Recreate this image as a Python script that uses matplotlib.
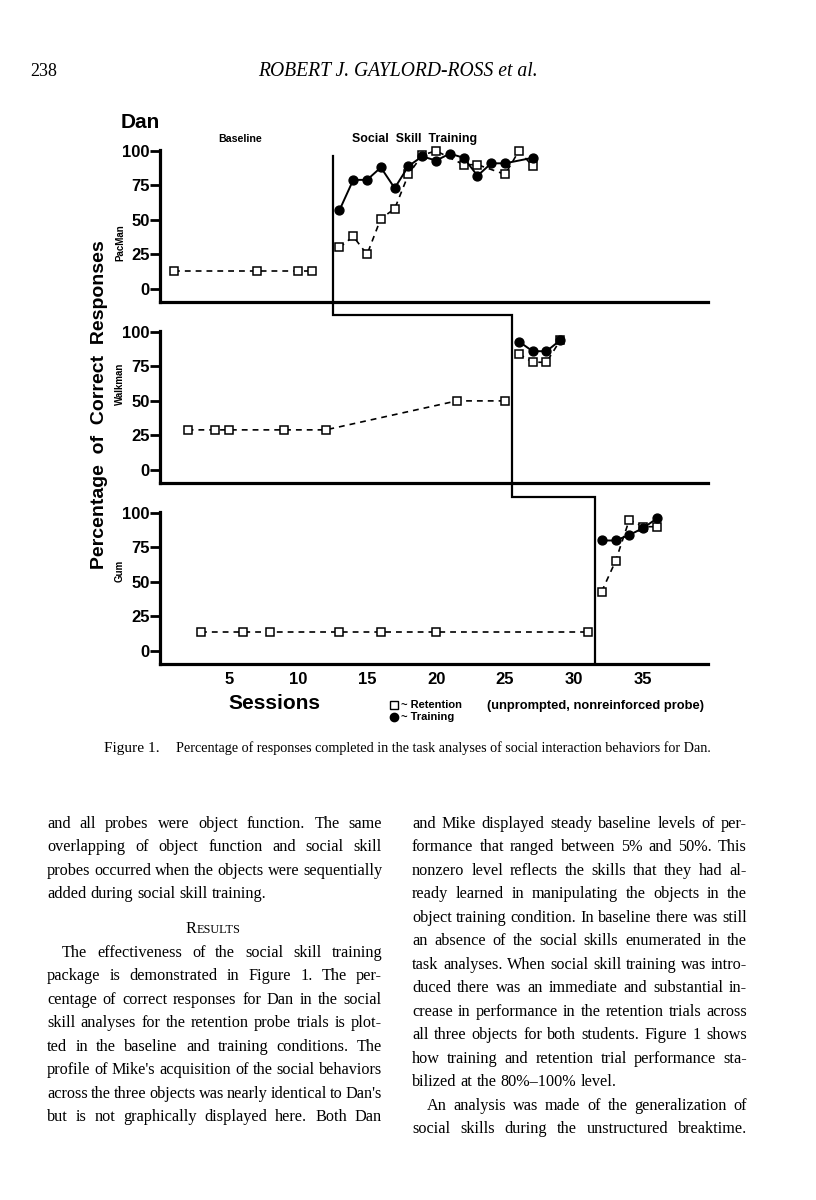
import matplotlib
matplotlib.use("Agg")
import matplotlib.pyplot as plt
from matplotlib.lines import Line2D
from matplotlib.transforms import IdentityTransform

# ---- data (sessions, percent correct) ----
pac_base_x = [1, 7, 10, 11]
pac_base_ret = [13, 13, 13, 13]
pac_ret_x = [13, 14, 15, 16, 17, 18, 19, 20, 22, 23, 25, 26, 27]
pac_ret = [30, 38, 25, 51, 58, 83, 97, 100, 90, 90, 83, 100, 89]
pac_tr_x = [13, 14, 15, 16, 17, 18, 19, 20, 21, 22, 23, 24, 25, 27]
pac_tr = [57, 79, 79, 88, 73, 89, 96, 93, 98, 95, 82, 91, 91, 95]

walk_base_x = [2, 4, 5, 9, 12, 21.5, 25]
walk_base_ret = [29, 29, 29, 29, 29, 50, 50]
walk_ret_x = [26, 27, 28, 29]
walk_ret = [84, 78, 78, 94]
walk_tr_x = [26, 27, 28, 29]
walk_tr = [93, 86, 86, 94]

gum_base_x = [3, 6, 8, 13, 16, 20, 31]
gum_base_ret = [13.5, 13.5, 13.5, 13.5, 13.5, 13.5, 13.5]
gum_ret_x = [32, 33, 34, 35, 36]
gum_ret = [43, 65, 95, 90, 90]
gum_tr_x = [32, 33, 34, 35, 36]
gum_tr = [80, 80, 84, 89, 96]

phase_x = [12.5, 25.5, 31.5]
yticks = [0, 25, 50, 75, 100]
xticks = [5, 10, 15, 20, 25, 30, 35]

W, H = 816, 1200
fig = plt.figure(figsize=(8.16, 12), dpi=100)
fig.patch.set_facecolor('white')
renderer = fig.canvas.get_renderer()

SANS = 'Liberation Sans'
SERIF = 'Liberation Serif'


def fx(x):
    return x / W


def fy(y):
    return 1 - y / H


YLO, YHI = -9.5, 105
XLO, XHI = 0, 39.7
PX_PER_UNIT = 1.38


def make_axes(spine_y):
    h = (YHI - YLO) * PX_PER_UNIT
    ax = fig.add_axes([fx(160), fy(spine_y), 548 / W, h / H])
    ax.set_xlim(XLO, XHI)
    ax.set_ylim(YLO, YHI)
    for s in ['top', 'right']:
        ax.spines[s].set_visible(False)
    ax.spines['left'].set_linewidth(2.3)
    ax.spines['bottom'].set_linewidth(2.3)
    ax.spines['left'].set_bounds(YLO, 100.6)
    ax.set_yticks(yticks)
    ax.set_yticklabels([str(v) for v in yticks], fontfamily=SANS,
                       fontweight='bold', fontsize=12)
    ax.tick_params(axis='y', length=7, width=2, pad=0.5)
    ax.tick_params(axis='x', length=0)
    ax.set_xticks([])
    ax.patch.set_alpha(0)
    return ax


ax1 = make_axes(302)
ax2 = make_axes(483)
ax3 = make_axes(664)

ret_kw = dict(color='black', lw=1.2, linestyle=(0, (3.5, 3)), marker='s',
              markersize=6, markerfacecolor='white', markeredgecolor='black',
              markeredgewidth=1.1, clip_on=False)
tr_kw = dict(color='black', lw=1.4, marker='o', markersize=6.4,
             markerfacecolor='black', markeredgecolor='black', clip_on=False)

ax1.plot(pac_base_x, pac_base_ret, **ret_kw)
ax1.plot(pac_ret_x, pac_ret, **ret_kw)
ax1.plot(pac_tr_x, pac_tr, **tr_kw)

ax2.plot(walk_base_x, walk_base_ret, **ret_kw)
ax2.plot(walk_ret_x, walk_ret, **ret_kw)
ax2.plot(walk_tr_x, walk_tr, **tr_kw)

ax3.plot(gum_base_x, gum_base_ret, **ret_kw)
ax3.plot(gum_ret_x, gum_ret, **ret_kw)
ax3.plot(gum_tr_x, gum_tr, **tr_kw)

ax3.set_xticks(xticks)
ax3.set_xticklabels([str(v) for v in xticks], fontfamily=SANS,
                    fontweight='bold', fontsize=12)
ax3.tick_params(axis='x', length=0, pad=6)

# phase change line running through the three panels
pts = [(ax1, phase_x[0], 96), (ax1, phase_x[0], YLO),
       (ax2, phase_x[0], 112), (ax2, phase_x[1], 112),
       (ax2, phase_x[1], YLO), (ax3, phase_x[1], 111.5),
       (ax3, phase_x[2], 111.5), (ax3, phase_x[2], YLO)]
disp = [a.transData.transform((x, y)) for a, x, y in pts]
fig.add_artist(Line2D([d[0] for d in disp], [d[1] for d in disp],
                      transform=IdentityTransform(), color='black', lw=1.6,
                      solid_joinstyle='miter'))


def fit_text(s, x0, x1, ybase, size, **kw):
    t = fig.text(fx(x0), fy(ybase), s, fontsize=size, ha='left',
                 va='baseline', **kw)
    w = t.get_window_extent(renderer).width
    t.set_fontsize(size * (x1 - x0) / w)
    return t


# chart labels
fig.text(fx(121), fy(128), 'Dan', fontfamily=SANS, fontweight='bold',
         fontsize=15, ha='left', va='baseline')
fit_text('Baseline', 218, 262, 142, 7.5, fontfamily=SANS, fontweight='bold')
fit_text('Social  Skill  Training', 352, 477, 142, 7.5, fontfamily=SANS,
         fontweight='bold')
fig.text(fx(100), fy(405), 'Percentage  of  Correct  Responses',
         fontfamily=SANS, fontweight='bold', fontsize=14, rotation=90,
         ha='center', va='center')
for name, yc in [('PacMan', 243), ('Walkman', 384), ('Gum', 571)]:
    fig.text(fx(120), fy(yc), name, fontfamily=SANS, fontweight='bold',
             fontsize=7, rotation=90, ha='center', va='center')
fig.text(fx(228), fy(709), 'Sessions', fontfamily=SANS, fontweight='bold',
         fontsize=15, ha='left', va='baseline')

# legend
fig.add_artist(Line2D([fx(394)], [fy(705)], transform=fig.transFigure,
                      marker='s', markersize=5.5, markerfacecolor='white',
                      markeredgecolor='black', markeredgewidth=1.0))
fig.add_artist(Line2D([fx(394)], [fy(717)], transform=fig.transFigure,
                      marker='o', markersize=6, markerfacecolor='black',
                      markeredgecolor='black'))
fig.text(fx(401), fy(708.5), '~ Retention', fontfamily=SANS,
         fontweight='bold', fontsize=8, ha='left', va='baseline')
fig.text(fx(401), fy(720.5), '~ Training', fontfamily=SANS,
         fontweight='bold', fontsize=8, ha='left', va='baseline')
fit_text('(unprompted, nonreinforced probe)', 487, 703, 708.5, 7.5,
         fontfamily=SANS, fontweight='bold')

# page header and caption
fig.text(fx(30), fy(76), '238', fontfamily=SERIF, fontsize=13,
         ha='left', va='baseline')
fit_text('ROBERT J. GAYLORD-ROSS et al.', 258, 538, 76, 13,
         fontfamily=SERIF, fontstyle='italic')
fit_text('Figure 1.', 104, 160, 752, 9.5, fontfamily=SERIF)
fit_text('Percentage of responses completed in the task analyses of social '
         'interaction behaviors for Dan.', 176, 713, 752, 9.5,
         fontfamily=SERIF)

# body text, two justified columns
left_col = [
    ("and all probes were object function. The same", 'j', 0, 828),
    ("overlapping of object function and social skill", 'j', 0, 851),
    ("probes occurred when the objects were sequentially", 'j', 0, 875),
    ("added during social skill training.", 'l', 0, 898),
    ("The effectiveness of the social skill training", 'j', 15, 957),
    ("package is demonstrated in Figure 1. The per-", 'j', 0, 980),
    ("centage of correct responses for Dan in the social", 'j', 0, 1004),
    ("skill analyses for the retention probe trials is plot-", 'j', 0, 1027),
    ("ted in the baseline and training conditions. The", 'j', 0, 1051),
    ("profile of Mike's acquisition of the social behaviors", 'j', 0, 1074),
    ("across the three objects was nearly identical to Dan's", 'j', 0, 1098),
    ("but is not graphically displayed here. Both Dan", 'j', 0, 1121),
]
right_col = [
    ("and Mike displayed steady baseline levels of per-", 'j', 0, 828),
    ("formance that ranged between 5% and 50%. This", 'j', 0, 851),
    ("nonzero level reflects the skills that they had al-", 'j', 0, 875),
    ("ready learned in manipulating the objects in the", 'j', 0, 898),
    ("object training condition. In baseline there was still", 'j', 0, 922),
    ("an absence of the social skills enumerated in the", 'j', 0, 945),
    ("task analyses. When social skill training was intro-", 'j', 0, 969),
    ("duced there was an immediate and substantial in-", 'j', 0, 992),
    ("crease in performance in the retention trials across", 'j', 0, 1016),
    ("all three objects for both students. Figure 1 shows", 'j', 0, 1039),
    ("how training and retention trial performance sta-", 'j', 0, 1063),
    ("bilized at the 80%\u2013100% level.", 'l', 0, 1086),
    ("An analysis was made of the generalization of", 'j', 15, 1110),
    ("social skills during the unstructured breaktime.", 'j', 0, 1133),
]
cols = [(47, 382, left_col), (412, 747, right_col)]


def text_width(s, size):
    t = fig.text(0, 0, s, fontsize=size, fontfamily=SERIF)
    w = t.get_window_extent(renderer).width
    t.remove()
    return w


# pick one body size so the tightest justified line fits with slightly
# narrowed spaces
sp10 = text_width('a b', 10) - text_width('ab', 10)
ratios = []
for x0, x1, lines in cols:
    for s, mode, ind, yb in lines:
        if mode == 'j':
            words = s.split()
            nat = sum(text_width(w, 10) for w in words) + \
                0.75 * sp10 * (len(words) - 1)
            ratios.append((x1 - x0 - ind) / nat)
body_size = 10 * min(ratios)
space_w = text_width('a b', body_size) - text_width('ab', body_size)

for x0, x1, lines in cols:
    for s, mode, ind, yb in lines:
        words = s.split()
        ws = [text_width(w, body_size) for w in words]
        if mode == 'j' and len(words) > 1:
            gap = (x1 - x0 - ind - sum(ws)) / (len(words) - 1)
        else:
            gap = space_w
        x = x0 + ind
        for w, wd in zip(words, ws):
            fig.text(fx(x), fy(yb), w, fontsize=body_size, fontfamily=SERIF,
                     ha='left', va='baseline')
            x += wd + gap

# small-caps heading
rw = text_width('R', body_size)
ew = text_width('ESULTS', body_size * 0.75)
hx = 213 - (rw + ew) / 2
fig.text(fx(hx), fy(933), 'R', fontsize=body_size, fontfamily=SERIF,
         ha='left', va='baseline')
fig.text(fx(hx + rw), fy(933), 'ESULTS', fontsize=body_size * 0.75,
         fontfamily=SERIF, ha='left', va='baseline')

fig.savefig('out.png', dpi=100)
